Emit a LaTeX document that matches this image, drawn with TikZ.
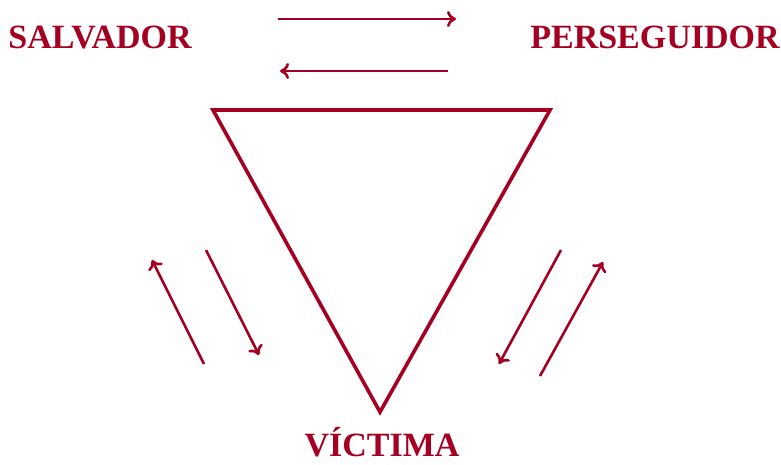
\documentclass[tikz,border=0pt]{standalone}
\usepackage{fontspec}
\setmainfont{Liberation Serif}
\usetikzlibrary{arrows.meta}

\definecolor{karpmanred}{HTML}{A50021}

\begin{document}
\begin{tikzpicture}[x=1pt, y=-1pt]
  \tikzset{
    role_label/.style={text=karpmanred, font=\fontsize{34}{34}\selectfont\bfseries, inner sep=0pt, anchor=base},
    thin_arrow/.style={draw=karpmanred, line width=2.6pt, -{To[length=9pt, width=16pt]}},
    triangle_line/.style={draw=karpmanred, line width=3.6pt, line join=miter}
  }

  % Marco de la figura
  \useasboundingbox (0,0) rectangle (781,464);

  % Roles del triángulo
  \node[role_label] (salvador) at (100,48) {SALVADOR};
  \node[role_label] (perseguidor) at (655,48) {PERSEGUIDOR};
  \node[role_label] (victima) at (382,456) {VÍCTIMA};

  % Vértices del triángulo invertido
  \coordinate (t_left) at (213,110);
  \coordinate (t_right) at (550,110);
  \coordinate (t_bottom) at (380,412);
  \draw[triangle_line] (t_left) -- (t_right) -- (t_bottom) -- cycle;

  % Flechas superiores
  \coordinate (top_a1) at (278,19);
  \coordinate (top_a2) at (456,19);
  \coordinate (top_b1) at (448,71);
  \coordinate (top_b2) at (280,71);
  \draw[thin_arrow] (top_a1) -- (top_a2);
  \draw[thin_arrow] (top_b1) -- (top_b2);

  % Flechas de la izquierda
  \coordinate (left_a1) at (204,364);
  \coordinate (left_a2) at (152,260);
  \coordinate (left_b1) at (206,250);
  \coordinate (left_b2) at (259,355);
  \draw[thin_arrow] (left_a1) -- (left_a2);
  \draw[thin_arrow] (left_b1) -- (left_b2);

  % Flechas de la derecha
  \coordinate (right_a1) at (561,250);
  \coordinate (right_a2) at (499,364);
  \coordinate (right_b1) at (540,376);
  \coordinate (right_b2) at (603,262);
  \draw[thin_arrow] (right_a1) -- (right_a2);
  \draw[thin_arrow] (right_b1) -- (right_b2);
\end{tikzpicture}
\end{document}
